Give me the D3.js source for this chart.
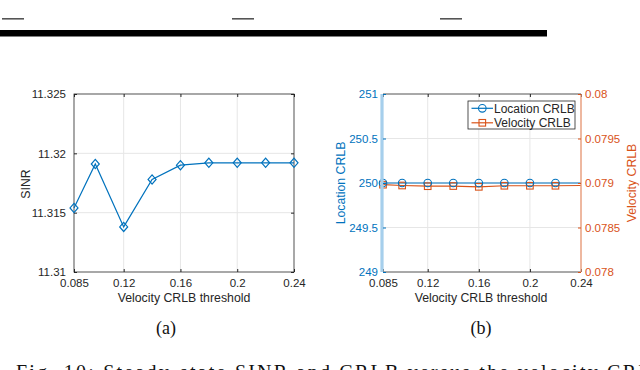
<!DOCTYPE html>
<html>
<head>
<meta charset="utf-8">
<script src="https://cdn.jsdelivr.net/npm/d3@7"></script>
<style>
  body { margin: 0; background: #fff; }
  svg { display: block; }
  .tick text { font-family: "Liberation Sans", Arial, sans-serif; font-size: 11.5px; }
</style>
</head>
<body>
<script>
// data
const thresholds = [0.085, 0.1, 0.12, 0.14, 0.16, 0.18, 0.2, 0.22, 0.24];
const xTicks = [0.085, 0.12, 0.16, 0.2, 0.24];

const sinr = [11.3154, 11.3191, 11.3138, 11.3178, 11.3190, 11.3192, 11.3192, 11.3192, 11.3192];
const sinrTicks = [11.31, 11.315, 11.32, 11.325];

const locationCrlb = [250, 250, 250, 250, 250, 250, 250, 250, 250];
const velocityCrlb = [0.078981, 0.078972, 0.078964, 0.078966, 0.078957, 0.078969, 0.078969, 0.078969, 0.078972];
const locTicks = [249, 249.5, 250, 250.5, 251];
const velTicks = [0.078, 0.0785, 0.079, 0.0795, 0.08];

const legendLabels = ["Location CRLB", "Velocity CRLB"];

const blue = "#0072BD", orange = "#D95319", axisGray = "#262626", gridGray = "#e6e6e6";
const W = 640, H = 370;

const svg = d3.select("body").append("svg")
    .attr("width", W)
    .attr("height", H);

// remnants of the table above the figure
[2, 232, 440].forEach(x => {
    svg.append("rect").attr("x", x).attr("y", 18).attr("width", 22).attr("height", 1.6).attr("fill", "#555");
});
svg.append("rect").attr("x", 0).attr("y", 30).attr("width", 547).attr("height", 6.5).attr("fill", "#000");

// shared helpers
function grid(g, x, y, xs, ys) {
    g.selectAll(".gx").data(xs).enter().append("line")
        .attr("x1", d => x(d)).attr("x2", d => x(d))
        .attr("y1", y.range()[0]).attr("y2", y.range()[1])
        .attr("stroke", gridGray);
    g.selectAll(".gy").data(ys).enter().append("line")
        .attr("x1", x.range()[0]).attr("x2", x.range()[1])
        .attr("y1", d => y(d)).attr("y2", d => y(d))
        .attr("stroke", gridGray);
}

function styleAxis(sel, color) {
    sel.select(".domain").remove();
    sel.selectAll(".tick line").attr("stroke", color);
    sel.selectAll(".tick text").attr("fill", color);
}

function xAxes(g, x, y) {
    g.append("g")
        .attr("transform", `translate(0,${y.range()[0]})`)
        .call(d3.axisBottom(x).tickValues(xTicks).tickFormat(d => String(d)).tickSize(-3).tickPadding(7))
        .call(styleAxis, axisGray);
    g.append("g")
        .attr("transform", `translate(0,${y.range()[1]})`)
        .call(d3.axisTop(x).tickValues(xTicks).tickFormat("").tickSize(-3))
        .call(styleAxis, axisGray);
}

// ---------- (a) SINR ----------
const xa = d3.scaleLinear().domain([0.085, 0.24]).range([74, 294]);
const ya = d3.scaleLinear().domain([11.31, 11.325]).range([272, 94]);
const ga = svg.append("g");

grid(ga, xa, ya, xTicks.slice(1, -1), sinrTicks.slice(1, -1));

xAxes(ga, xa, ya);
ga.append("g")
    .attr("transform", `translate(${xa.range()[0]},0)`)
    .call(d3.axisLeft(ya).tickValues(sinrTicks).tickFormat(d => String(d)).tickSize(-3).tickPadding(8))
    .call(styleAxis, axisGray);
ga.append("g")
    .attr("transform", `translate(${xa.range()[1]},0)`)
    .call(d3.axisRight(ya).tickValues(sinrTicks).tickFormat("").tickSize(-3))
    .call(styleAxis, axisGray);

ga.append("rect")
    .attr("x", 74).attr("y", 94).attr("width", 220).attr("height", 178)
    .attr("fill", "none").attr("stroke", axisGray).attr("stroke-width", 0.8);

const lineA = d3.line().x((d, i) => xa(thresholds[i])).y(d => ya(d));
ga.append("path").datum(sinr)
    .attr("d", lineA).attr("fill", "none").attr("stroke", blue).attr("stroke-width", 1.2);

ga.selectAll(".dia").data(sinr).enter().append("path")
    .attr("transform", (d, i) => `translate(${xa(thresholds[i])},${ya(d)})`)
    .attr("d", "M0,-4.6L4,0L0,4.6L-4,0Z")
    .attr("fill", "none").attr("stroke", blue).attr("stroke-width", 1.2);

ga.append("text")
    .attr("transform", "translate(30,184) rotate(-90)")
    .attr("text-anchor", "middle")
    .attr("font-family", "Liberation Sans, Arial, sans-serif").attr("font-size", 12.3)
    .attr("fill", axisGray).text("SINR");
ga.append("text")
    .attr("x", 184).attr("y", 302)
    .attr("text-anchor", "middle")
    .attr("font-family", "Liberation Sans, Arial, sans-serif").attr("font-size", 12.3)
    .attr("fill", axisGray).text("Velocity CRLB threshold");

// ---------- (b) CRLB, two y axes ----------
const xb = d3.scaleLinear().domain([0.085, 0.24]).range([383, 581]);
const yLoc = d3.scaleLinear().domain([249, 251]).range([272, 94]);
const yVel = d3.scaleLinear().domain([0.078, 0.08]).range([272, 94]);
const gb = svg.append("g");

grid(gb, xb, yLoc, xTicks.slice(1, -1), locTicks.slice(1, -1));
xAxes(gb, xb, yLoc);

gb.append("line").attr("x1", 383).attr("x2", 581).attr("y1", 94).attr("y2", 94)
    .attr("stroke", axisGray).attr("stroke-width", 0.8);
gb.append("line").attr("x1", 383).attr("x2", 581).attr("y1", 272).attr("y2", 272)
    .attr("stroke", axisGray).attr("stroke-width", 0.8);

const lineLoc = d3.line().x((d, i) => xb(thresholds[i])).y(d => yLoc(d));
const lineVel = d3.line().x((d, i) => xb(thresholds[i])).y(d => yVel(d));

gb.append("path").datum(velocityCrlb)
    .attr("d", lineVel).attr("fill", "none").attr("stroke", orange).attr("stroke-width", 1.2);
gb.append("path").datum(locationCrlb)
    .attr("d", lineLoc).attr("fill", "none").attr("stroke", blue).attr("stroke-width", 1.2);

// the original shows no marker at the last threshold
const markIdx = d3.range(thresholds.length - 1);
gb.selectAll(".sq").data(markIdx).enter().append("rect")
    .attr("x", i => xb(thresholds[i]) - 3.3).attr("y", i => yVel(velocityCrlb[i]) - 3.3)
    .attr("width", 6.6).attr("height", 6.6)
    .attr("fill", "none").attr("stroke", orange).attr("stroke-width", 1.1);
gb.selectAll(".ci").data(markIdx).enter().append("circle")
    .attr("cx", i => xb(thresholds[i])).attr("cy", i => yLoc(locationCrlb[i]))
    .attr("r", 3.8)
    .attr("fill", "none").attr("stroke", blue).attr("stroke-width", 1.1);

// left (blue) and right (orange) axes
gb.append("line").attr("x1", 382).attr("x2", 382).attr("y1", 94).attr("y2", 272)
    .attr("stroke", "#a6cfec").attr("stroke-width", 3.2);
gb.append("g")
    .attr("transform", "translate(383,0)")
    .call(d3.axisLeft(yLoc).tickValues(locTicks).tickFormat(d => String(d)).tickSize(-3).tickPadding(5))
    .call(styleAxis, blue);
gb.append("line").attr("x1", 581).attr("x2", 581).attr("y1", 94).attr("y2", 272)
    .attr("stroke", "#e79a78").attr("stroke-width", 1.4);
gb.append("g")
    .attr("transform", "translate(581,0)")
    .call(d3.axisRight(yVel).tickValues(velTicks).tickFormat(d => String(d)).tickSize(-3).tickPadding(4))
    .call(styleAxis, orange);

gb.append("text")
    .attr("transform", "translate(345,183) rotate(-90)")
    .attr("text-anchor", "middle")
    .attr("font-family", "Liberation Sans, Arial, sans-serif").attr("font-size", 12.3)
    .attr("fill", blue).text("Location CRLB");
gb.append("text")
    .attr("transform", "translate(636,183) rotate(-90)")
    .attr("text-anchor", "middle")
    .attr("font-family", "Liberation Sans, Arial, sans-serif").attr("font-size", 12.3)
    .attr("fill", orange).text("Velocity CRLB");
gb.append("text")
    .attr("x", 481).attr("y", 302)
    .attr("text-anchor", "middle")
    .attr("font-family", "Liberation Sans, Arial, sans-serif").attr("font-size", 12.3)
    .attr("fill", axisGray).text("Velocity CRLB threshold");

// legend
const lg = gb.append("g").attr("transform", "translate(468,101)");
lg.append("rect").attr("width", 107).attr("height", 28)
    .attr("fill", "#fff").attr("stroke", axisGray).attr("stroke-width", 0.8);
const items = lg.selectAll(".item").data(legendLabels).enter().append("g")
    .attr("transform", (d, i) => `translate(0,${7.3 + i * 14.5})`);
items.append("line").attr("x1", 3.5).attr("x2", 25)
    .attr("stroke", (d, i) => i ? orange : blue).attr("stroke-width", 1.2);
items.filter((d, i) => i === 0).append("circle").attr("cx", 14.3).attr("r", 3.8)
    .attr("fill", "none").attr("stroke", blue).attr("stroke-width", 1.1);
items.filter((d, i) => i === 1).append("rect").attr("x", 11).attr("y", -3.3).attr("width", 6.6).attr("height", 6.6)
    .attr("fill", "none").attr("stroke", orange).attr("stroke-width", 1.1);
items.append("text").attr("x", 26).attr("dy", "0.35em")
    .attr("font-family", "Liberation Sans, Arial, sans-serif").attr("font-size", 12)
    .attr("fill", axisGray).text(d => d);

// sub-figure labels and caption (caption is cut off by the frame, as in the source)
svg.append("text").attr("x", 166).attr("y", 334).attr("text-anchor", "middle")
    .attr("font-family", "Liberation Serif, Times New Roman, serif").attr("font-size", 18)
    .attr("fill", "#111").text("(a)");
svg.append("text").attr("x", 481).attr("y", 334).attr("text-anchor", "middle")
    .attr("font-family", "Liberation Serif, Times New Roman, serif").attr("font-size", 18)
    .attr("fill", "#111").text("(b)");
svg.append("text").attr("x", 16).attr("y", 379)
    .attr("font-family", "Liberation Serif, Times New Roman, serif").attr("font-size", 20)
    .attr("textLength", 650).attr("lengthAdjust", "spacing")
    .attr("fill", "#111").text("Fig. 10: Steady-state SINR and CRLB versus the velocity CRLB");
</script>
</body>
</html>
